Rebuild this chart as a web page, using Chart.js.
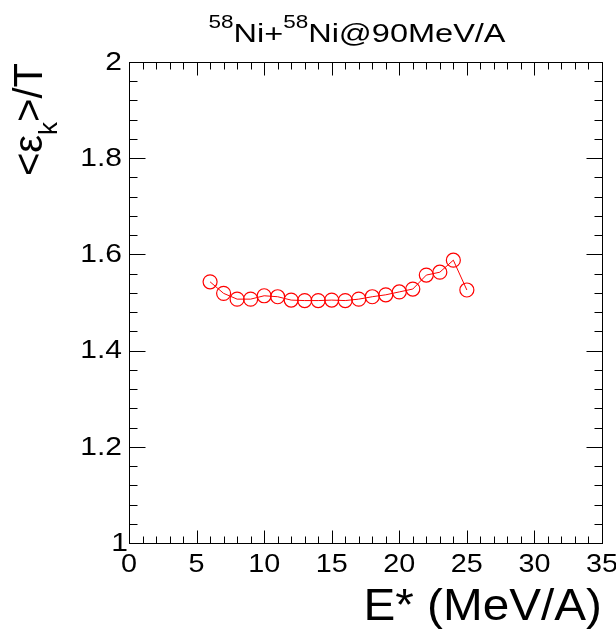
<!DOCTYPE html>
<html lang="en">
<head>
    <meta charset="UTF-8">
    <title>Ni+Ni 90 MeV/A</title>
    <style>
        body {
            margin: 0;
            background: #ffffff;
            overflow: hidden;
        }
    </style>
</head>
<body>
    <canvas id="chart" width="616" height="632"></canvas>
    <script src="https://cdn.jsdelivr.net/npm/chart.js"></script>
    <script>
        // excitation energy (MeV/A) and <eps_k>/T
        const excitation = [6, 7, 8, 9, 10, 11, 12, 13, 14, 15, 16, 17, 18, 19, 20, 21, 22, 23, 24, 25];
        const ratio = [1.543, 1.519, 1.507, 1.507, 1.514, 1.512, 1.505, 1.504, 1.504, 1.505,
                       1.504, 1.507, 1.512, 1.516, 1.522, 1.528, 1.557, 1.563, 1.588, 1.526];

        const xTicks = [0, 5, 10, 15, 20, 25, 30, 35];
        const yTicks = [1, 1.2, 1.4, 1.6, 1.8, 2];
        const yTickLabels = ['1', '1.2', '1.4', '1.6', '1.8', '2'];

        const FONT = '"Liberation Sans", Arial, sans-serif';

        // text squeezed/stretched horizontally, like the ROOT output
        function drawText(ctx, str, x, y, align, sx) {
            ctx.save();
            ctx.translate(x, y);
            ctx.scale(sx, 1);
            ctx.textAlign = align;
            ctx.fillText(str, 0, 0);
            ctx.restore();
        }

        // ROOT-like frame: ticks on all four sides, pointing inward
        const frame = {
            id: 'frame',
            afterDraw(chart) {
                const ctx = chart.ctx;
                const a = chart.chartArea;
                const xs = chart.scales.x, ys = chart.scales.y;
                const L = Math.round(a.left) + 0.5, R = Math.round(a.right) + 0.5;
                const T = Math.round(a.top) + 0.5, B = Math.round(a.bottom) + 0.5;

                ctx.save();
                ctx.strokeStyle = '#000';
                ctx.lineWidth = 1;
                ctx.strokeRect(L, T, R - L, B - T);

                ctx.beginPath();
                // x ticks (5 subdivisions per major step)
                for (let i = 0; i < xTicks.length; i++) {
                    const step = i < xTicks.length - 1 ? (xTicks[i + 1] - xTicks[i]) / 5 : 0;
                    for (let k = 0; k < (step ? 5 : 1); k++) {
                        const v = xTicks[i] + k * step;
                        const px = Math.round(xs.getPixelForValue(v)) + 0.5;
                        const len = k === 0 ? 13 : 7;
                        ctx.moveTo(px, B); ctx.lineTo(px, B - len);
                        ctx.moveTo(px, T); ctx.lineTo(px, T + len);
                    }
                }
                // y ticks
                for (let i = 0; i < yTicks.length; i++) {
                    const step = i < yTicks.length - 1 ? (yTicks[i + 1] - yTicks[i]) / 5 : 0;
                    for (let k = 0; k < (step ? 5 : 1); k++) {
                        const v = yTicks[i] + k * step;
                        const py = Math.round(ys.getPixelForValue(v)) + 0.5;
                        const len = k === 0 ? 16 : 8;
                        ctx.moveTo(L, py); ctx.lineTo(L + len, py);
                        ctx.moveTo(R, py); ctx.lineTo(R - len, py);
                    }
                }
                ctx.stroke();

                // tick labels
                ctx.fillStyle = '#000';
                ctx.font = '25px ' + FONT;
                ctx.textBaseline = 'alphabetic';
                xTicks.forEach(v => {
                    drawText(ctx, String(v), xs.getPixelForValue(v), 572, 'center', 1.15);
                });
                ctx.textBaseline = 'middle';
                yTicks.forEach((v, i) => {
                    const shift = i === 0 ? 6 : 0;
                    drawText(ctx, yTickLabels[i], a.left - 7 + shift, ys.getPixelForValue(v) + 1, 'right', 1.2);
                });

                // x title
                ctx.font = '45px ' + FONT;
                ctx.textBaseline = 'alphabetic';
                drawText(ctx, 'E* (MeV/A)', a.right, 620, 'right', 1.06);

                // y title, rotated, ending at top of frame
                ctx.save();
                ctx.translate(42, a.top + 1);
                ctx.rotate(-Math.PI / 2);
                const big = '40px ' + FONT, small = '26px ' + FONT;
                const parts = [['<', big, 0], ['\u03b5', big, 0], ['k', small, 15], ['>/T', big, 0]];
                let total = 0;
                parts.forEach(p => { ctx.font = p[1]; total += ctx.measureText(p[0]).width; });
                let x = -total;
                ctx.textAlign = 'left';
                parts.forEach(p => {
                    ctx.font = p[1];
                    ctx.fillText(p[0], x, p[2]);
                    x += ctx.measureText(p[0]).width;
                });
                ctx.restore();

                // title with superscripts, stretched to the reference width
                const sx = 1.25;
                const tparts = [['58', '18px ' + FONT, -14], ['Ni+', '26px ' + FONT, 0],
                                ['58', '18px ' + FONT, -14], ['Ni@90MeV/A', '26px ' + FONT, 0]];
                let tw = 0;
                tparts.forEach(p => { ctx.font = p[1]; tw += ctx.measureText(p[0]).width * sx; });
                let tx = 357 - tw / 2;
                tparts.forEach(p => {
                    ctx.font = p[1];
                    drawText(ctx, p[0], tx, 42 + p[2], 'left', sx);
                    tx += ctx.measureText(p[0]).width * sx;
                });
                ctx.restore();
            }
        };

        new Chart(document.getElementById('chart'), {
            type: 'scatter',
            data: {
                datasets: [{
                    data: excitation.map((e, i) => ({ x: e, y: ratio[i] })),
                    showLine: true,
                    borderColor: '#ff0000',
                    borderWidth: 1,
                    backgroundColor: 'rgba(0,0,0,0)',
                    pointStyle: 'circle',
                    pointRadius: 7,
                    pointBorderWidth: 1.2,
                    pointBorderColor: '#ff0000',
                    pointBackgroundColor: 'rgba(0,0,0,0)',
                    tension: 0
                }]
            },
            options: {
                responsive: false,
                animation: false,
                layout: { padding: { left: 129, right: 14, top: 62, bottom: 89 } },
                plugins: { legend: { display: false }, tooltip: { enabled: false } },
                scales: {
                    x: { type: 'linear', min: 0, max: 35, display: false },
                    y: { type: 'linear', min: 1, max: 2, display: false }
                }
            },
            plugins: [frame]
        });
    </script>
</body>
</html>
